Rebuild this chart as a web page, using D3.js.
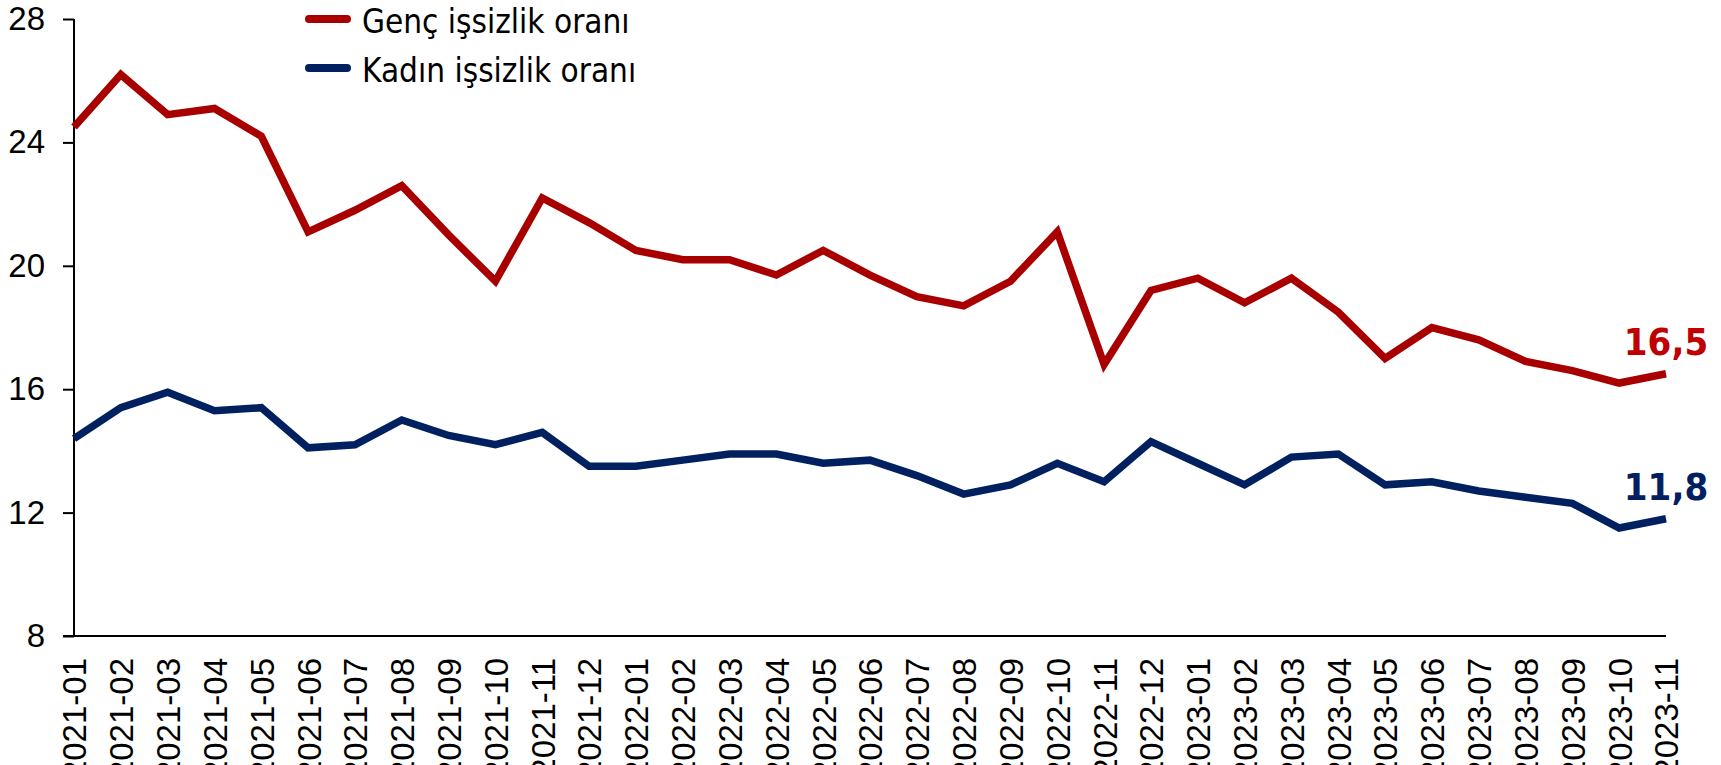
<!DOCTYPE html>
<html><head><meta charset="utf-8">
<script src="https://cdn.jsdelivr.net/npm/d3@7"></script>
<style>
html,body{margin:0;padding:0;background:#fff;}
svg{display:block;font-family:Tahoma,"DejaVu Sans Condensed","DejaVu Sans",sans-serif;}
</style></head>
<body><svg id="c" width="1721" height="765"></svg>
<script>
const months = ["2021-01","2021-02","2021-03","2021-04","2021-05","2021-06","2021-07","2021-08","2021-09","2021-10","2021-11","2021-12",
"2022-01","2022-02","2022-03","2022-04","2022-05","2022-06","2022-07","2022-08","2022-09","2022-10","2022-11","2022-12",
"2023-01","2023-02","2023-03","2023-04","2023-05","2023-06","2023-07","2023-08","2023-09","2023-10","2023-11"];
const youthRate = [24.5,26.2,24.9,25.1,24.2,21.1,21.8,22.6,21.0,19.5,22.2,21.4,
20.5,20.2,20.2,19.7,20.5,19.7,19.0,18.7,19.5,21.1,16.8,19.2,
19.6,18.8,19.6,18.5,17.0,18.0,17.6,16.9,16.6,16.2,16.5];
const womenRate = [14.4,15.4,15.9,15.3,15.4,14.1,14.2,15.0,14.5,14.2,14.6,13.5,
13.5,13.7,13.9,13.9,13.6,13.7,13.2,12.6,12.9,13.6,13.0,14.3,
13.6,12.9,13.8,13.9,12.9,13.0,12.7,12.5,12.3,11.5,11.8];
const seriesNames = ["Genç işsizlik oranı","Kadın işsizlik oranı"];
const yTicks = [8,12,16,20,24,28];
const lineColors = ["#A80000","#002060"];
const labelColors = ["#C00000","#002060"];

const svg = d3.select("#c");
const x = d3.scalePoint().domain(months).range([74,1666]);
const y = d3.scaleLinear().domain([8,28]).range([636,19]);

// y axis
const ya = svg.append("g").attr("transform","translate(74,0)")
  .call(d3.axisLeft(y).tickValues(yTicks).tickSize(11).tickPadding(18).tickFormat(d3.format("d")));
ya.select(".domain").attr("stroke","#000").attr("stroke-width",2).attr("d","M0,636V19");
ya.selectAll(".tick line").attr("stroke","#000").attr("stroke-width",2);
ya.selectAll("text").attr("font-size",33).attr("fill","#000").attr("font-family",null);

// x axis
const xa = svg.append("g").attr("transform","translate(0,636)")
  .call(d3.axisBottom(x).tickSize(0).tickPadding(0));
xa.select(".domain").attr("stroke","#000").attr("stroke-width",2).attr("d","M63,0H1666");
xa.selectAll(".tick text")
  .attr("font-size",33).attr("fill","#000").attr("font-family",null)
  .attr("text-anchor","end").attr("dy","0.36em")
  .attr("transform","translate(0,22) rotate(-90)").attr("x",0).attr("y",0);

const data = [youthRate, womenRate];
const line = d3.line().x((d,i)=>x(months[i])).y(d=>y(d));
data.forEach((vals,k)=>{
  svg.append("path").datum(vals).attr("d",line)
    .attr("fill","none").attr("stroke",lineColors[k]).attr("stroke-width",7.5)
    .attr("stroke-linejoin","miter");
  const last = vals.length-1;
  svg.append("text").attr("x",x(months[last])).attr("y",y(vals[last])-19)
    .attr("text-anchor","middle").attr("font-size",38).attr("font-weight","bold")
    .attr("fill",labelColors[k]).text(d3.format(".1f")(vals[last]).replace(".",","));
});

// legend
seriesNames.forEach((n,k)=>{
  const ly = 19 + k*49;
  svg.append("line").attr("x1",309).attr("x2",347).attr("y1",ly).attr("y2",ly)
    .attr("stroke",lineColors[k]).attr("stroke-width",8).attr("stroke-linecap","round");
  svg.append("text").attr("x",362).attr("y",ly+14).attr("font-size",33)
    .attr("fill","#000").text(n);
});
</script></body></html>
